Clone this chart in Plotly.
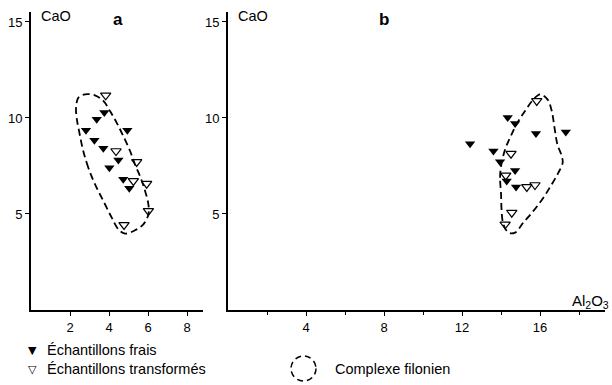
import plotly.graph_objects as go

W, H = 612, 385

# ---------------- data ----------------
# Panel a
a_frais_al2o3 = [3.76, 3.37, 2.82, 4.94, 3.25, 3.71, 4.48, 4.02, 4.73, 5.04]
a_frais_cao = [10.28, 9.93, 9.36, 9.36, 8.84, 8.42, 7.81, 7.41, 6.81, 6.34]
a_transf_al2o3 = [3.83, 4.36, 5.42, 5.25, 5.93, 6.02, 4.77]
a_transf_cao = [11.18, 8.28, 7.71, 6.72, 6.58, 5.16, 4.43]
a_env_al2o3 = [3.28, 2.94, 2.68, 2.48, 2.34, 2.31, 2.43, 2.77, 3.28, 3.71, 4.05, 4.39,
               4.73, 5.08, 5.33, 5.62, 5.85, 6.02, 6.02, 5.76, 5.33, 4.82, 4.48, 4.14,
               3.71, 3.28]
a_env_cao = [6.55, 7.41, 8.28, 9.24, 10.02, 10.54, 11.06, 11.23, 11.18, 10.89, 10.36, 9.76,
             9.06, 8.28, 7.59, 6.89, 6.20, 5.50, 4.98, 4.46, 4.15, 3.98, 4.20, 4.81,
             5.68, 6.55]

# Panel b
b_frais_al2o3 = [14.34, 14.72, 15.79, 17.32, 12.41, 13.61, 13.95, 14.72, 14.29, 14.77]
b_frais_cao = [10.02, 9.71, 9.19, 9.27, 8.66, 8.28, 7.72, 7.27, 6.72, 6.41]
b_transf_al2o3 = [15.83, 14.51, 14.24, 15.32, 15.74, 14.55, 14.21]
b_transf_cao = [10.89, 8.14, 7.01, 6.41, 6.51, 5.07, 4.46]
b_env_al2o3 = [14.0, 13.95, 14.0, 14.21, 14.5, 14.84, 15.23, 15.62, 16.0, 16.38, 16.6,
               16.74, 16.89, 17.11, 17.16, 16.94, 16.6, 16.17, 15.66, 15.14, 14.72,
               14.38, 14.12, 14.03, 14.0]
b_env_cao = [6.03, 6.89, 7.5, 8.37, 9.06, 9.76, 10.36, 10.92, 11.23, 10.97, 10.36,
             9.50, 8.63, 8.02, 7.67, 7.15, 6.55, 5.85, 5.16, 4.55, 4.03,
             4.03, 4.46, 5.16, 6.03]

a_xticks = [2, 4, 6, 8]
b_xticks = [4, 8, 12, 16]
b_xminor = [2, 6, 10, 14, 18]
yticks = [5, 10, 15]

legend_labels = ["Échantillons frais", "Échantillons transformés", "Complexe filonien"]

# ---------------- figure ----------------
FONT = "Liberation Sans"
fig = go.Figure()

env_line = dict(color="black", width=1.8, dash="7px,4px", shape="spline", smoothing=1.0)
mk_fill = dict(symbol="triangle-down", size=9, color="black")
mk_open = dict(symbol="triangle-down-open", size=9, color="black", line=dict(width=1.2, color="black"))

for xa, ya, env_x, env_y, fx, fy, tx, ty in [
    ("x", "y", a_env_al2o3, a_env_cao, a_frais_al2o3, a_frais_cao, a_transf_al2o3, a_transf_cao),
    ("x2", "y2", b_env_al2o3, b_env_cao, b_frais_al2o3, b_frais_cao, b_transf_al2o3, b_transf_cao),
]:
    fig.add_trace(go.Scatter(x=env_x, y=env_y, mode="lines", line=env_line,
                             xaxis=xa, yaxis=ya, showlegend=False, hoverinfo="skip"))
    fig.add_trace(go.Scatter(x=fx, y=fy, mode="markers", marker=mk_fill,
                             xaxis=xa, yaxis=ya, showlegend=False, name=legend_labels[0]))
    fig.add_trace(go.Scatter(x=tx, y=ty, mode="markers", marker=mk_open,
                             xaxis=xa, yaxis=ya, showlegend=False, name=legend_labels[1]))

y_dom = [1 - 310 / H, 1 - 12 / H]
axis_common = dict(showline=True, linecolor="black", linewidth=1.8, showgrid=False,
                   zeroline=False, ticks="outside", ticklen=4, tickwidth=1,
                   tickcolor="black", tickfont=dict(family=FONT, size=13, color="black"))

fig.update_layout(
    width=W, height=H,
    margin=dict(l=0, r=0, t=0, b=0),
    paper_bgcolor="white", plot_bgcolor="white",
    font=dict(family=FONT, size=13, color="black"),
    xaxis=dict(domain=[31 / W, 203 / W], range=[0, 8.82], tickvals=a_xticks,
               anchor="y", **axis_common),
    yaxis=dict(domain=y_dom, range=[0, 15.52], tickvals=yticks, anchor="x", **axis_common),
    xaxis2=dict(domain=[228 / W, 605 / W], range=[0, 19.33], tickvals=b_xticks,
                anchor="y2",
                minor=dict(tickvals=b_xminor, ticks="outside", ticklen=3, tickcolor="black"),
                **axis_common),
    yaxis2=dict(domain=y_dom, range=[0, 15.52], tickvals=yticks, anchor="x2", **axis_common),
)


def px(x):
    return x / W


def py(y):
    return 1 - y / H


ann = []
ann.append(dict(text="CaO", x=px(39), y=py(16), xanchor="left", yanchor="middle",
                font=dict(size=14.5)))
ann.append(dict(text="<b>a</b>", x=px(118), y=py(19), xanchor="center", yanchor="middle",
                font=dict(size=17)))
ann.append(dict(text="CaO", x=px(236), y=py(16), xanchor="left", yanchor="middle",
                font=dict(size=14.5)))
ann.append(dict(text="<b>b</b>", x=px(384), y=py(19), xanchor="center", yanchor="middle",
                font=dict(size=17)))
ann.append(dict(text="Al<sub>2</sub>O<sub>3</sub>", x=px(611), y=py(301), xanchor="right",
                yanchor="middle", font=dict(size=15)))

# legend
ann.append(dict(text="▼", x=px(32), y=py(350), xanchor="center", yanchor="middle",
                font=dict(size=11, family="DejaVu Sans")))
ann.append(dict(text="▽", x=px(32), y=py(369), xanchor="center", yanchor="middle",
                font=dict(size=11, family="DejaVu Sans")))
ann.append(dict(text=legend_labels[0], x=px(45), y=py(350), xanchor="left", yanchor="middle",
                font=dict(size=14.5)))
ann.append(dict(text=legend_labels[1], x=px(45), y=py(369), xanchor="left", yanchor="middle",
                font=dict(size=14.5)))
ann.append(dict(text=legend_labels[2], x=px(333), y=py(369), xanchor="left", yanchor="middle",
                font=dict(size=14.5)))

for a in ann:
    a.update(xref="paper", yref="paper", showarrow=False)
fig.update_layout(annotations=ann)

fig.add_shape(type="circle", xref="paper", yref="paper",
              x0=px(291), x1=px(316), y0=py(381), y1=py(356),
              line=dict(color="black", width=1.5, dash="6px,4px"))

fig.write_html("out.html")
